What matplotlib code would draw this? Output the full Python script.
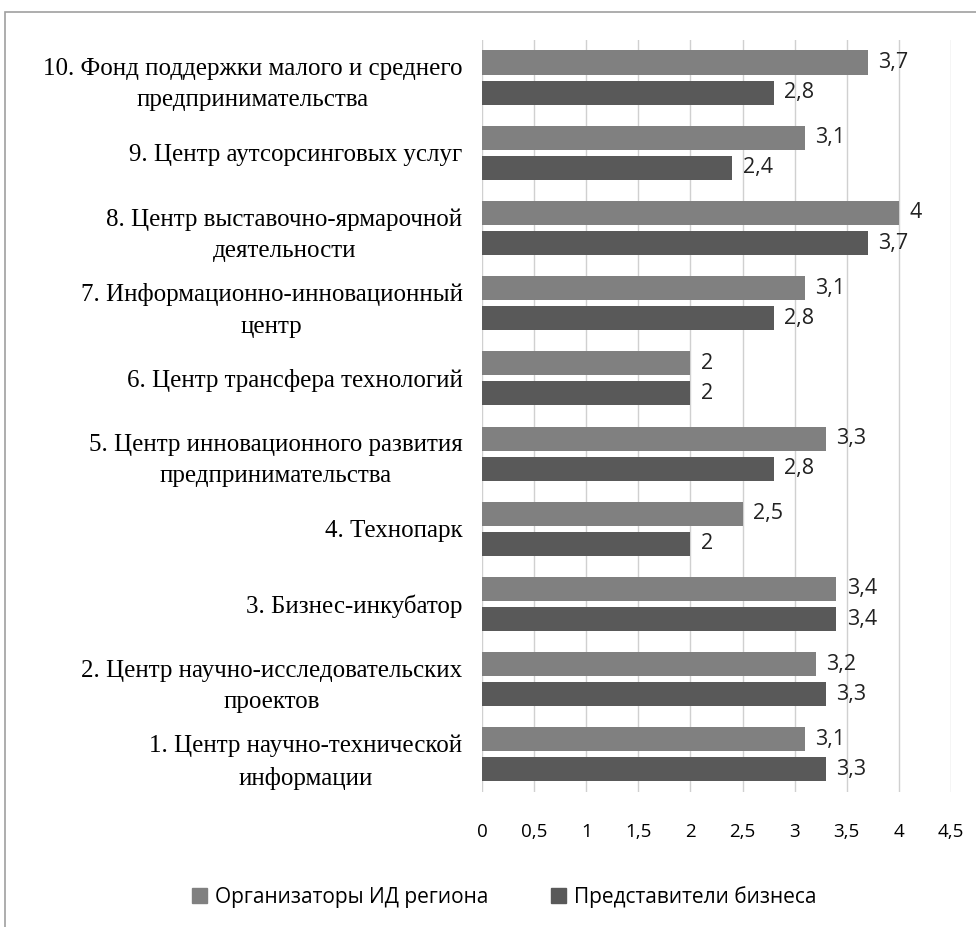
import matplotlib.pyplot as plt
from matplotlib.patches import Rectangle, Patch
import numpy as np

categories = [
    '1. Центр научно-технической\nинформации',
    '2. Центр научно-исследовательских\nпроектов',
    '3. Бизнес-инкубатор',
    '4. Технопарк',
    '5. Центр инновационного развития\nпредпринимательства',
    '6. Центр трансфера технологий',
    '7. Информационно-инновационный\nцентр',
    '8. Центр выставочно-ярмарочной\nдеятельности',
    '9. Центр аутсорсинговых услуг',
    '10. Фонд поддержки малого и среднего\nпредпринимательства',
]
organizers = [3.1, 3.2, 3.4, 2.5, 3.3, 2.0, 3.1, 4.0, 3.1, 3.7]
business = [3.3, 3.3, 3.4, 2.0, 2.8, 2.0, 2.8, 3.7, 2.4, 2.8]
series_names = ['Организаторы ИД региона', 'Представители бизнеса']
xticks = [0, 0.5, 1, 1.5, 2, 2.5, 3, 3.5, 4, 4.5]

col_light = '#808080'
col_dark = '#595959'

fig = plt.figure(figsize=(9.76, 9.27), dpi=100)
ax = fig.add_axes([0.4939, 0.1456, 0.4805, 0.8113])

# outer frame like the original chart area
fig.patches.append(Rectangle((5 / 976, -0.01), 0.999, 1 - 12 / 927 + 0.01,
                             transform=fig.transFigure, fill=False,
                             edgecolor='#a0a0a0', linewidth=1.2))

y = np.arange(1, len(categories) + 1)
h = 0.32
ax.barh(y + 0.2, organizers, height=h, color=col_light, zorder=3)
ax.barh(y - 0.2, business, height=h, color=col_dark, zorder=3)

def fmt(v):
    return ('%g' % v).replace('.', ',')

for yi, v in zip(y, organizers):
    ax.text(v + 0.1, yi + 0.2, fmt(v), va='center', ha='left',
            fontsize=15.5, family='Open Sans', color='#222222')
for yi, v in zip(y, business):
    ax.text(v + 0.1, yi - 0.2, fmt(v), va='center', ha='left',
            fontsize=15.5, family='Open Sans', color='#222222')

ax.set_xlim(0, 4.5)
ax.set_ylim(0.5, 10.5)
ax.set_xticks(xticks)
ax.set_xticklabels([fmt(t) for t in xticks], family='Open Sans', fontsize=13.5)
ax.set_yticks(y)
ax.set_yticklabels(categories, family='Liberation Serif', fontsize=18,
                   multialignment='center', linespacing=1.55)
ax.tick_params(axis='y', length=0, pad=14)
ax.tick_params(axis='x', length=0, pad=22)
ax.grid(axis='x', color='#d0d0d0', linewidth=1, zorder=0)
for s in ax.spines.values():
    s.set_visible(False)

handles = [Patch(color=col_light), Patch(color=col_dark)]
fig.legend(handles, series_names, loc='center', bbox_to_anchor=(0.517, 1 - 897 / 927),
           ncol=2, frameon=False, prop={'family': 'Open Sans', 'size': 15},
           handlelength=0.7, handleheight=0.7, handletextpad=0.4, columnspacing=3)

fig.savefig('out.png', dpi=100)
